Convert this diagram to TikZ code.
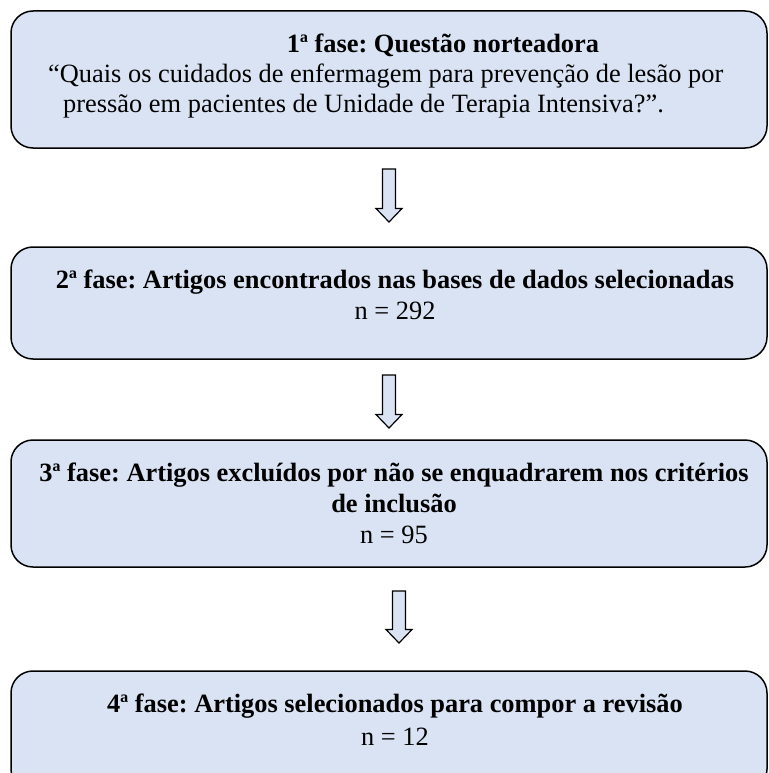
\documentclass[tikz,border=0pt]{standalone}
\usepackage{fontspec}
\setmainfont{Liberation Serif}
\usetikzlibrary{calc}
\definecolor{boxfill}{RGB}{218,227,243}
\frenchspacing
\begin{document}
\begin{tikzpicture}[x=1pt,y=-1pt,
  phasebox/.style={draw=black,line width=1.5pt,fill=boxfill,rounded corners=22pt,
     inner sep=0pt,minimum width=756pt,text width=0pt},
  txt/.style={inner sep=0pt,font=\fontsize{26.4pt}{30pt}\selectfont},
  btxt/.style={txt,font=\fontsize{26.4pt}{30pt}\selectfont\bfseries},
  barrow/.style={draw=black,line width=1.2pt,fill=boxfill,line join=miter}]
\useasboundingbox (0,0) rectangle (768,773);
\clip (0,0) rectangle (768,773);
% boxes
\node[phasebox,minimum height=137pt] (b1) at (389,79.5) {};
\node[phasebox,minimum height=112pt] (b2) at (389,303) {};
\node[phasebox,minimum height=127pt] (b3) at (389,503.5) {};
\node[phasebox,minimum height=120pt] (b4) at (389,731) {};
% texts box 1
\node[btxt,anchor=base] (t11) at (443,53) {1ª fase: Questão norteadora};
\node[txt,anchor=base west] (t12) at (48,83) {“Quais os cuidados de enfermagem para prevenção de lesão por};
\node[txt,anchor=base west] (t13) at (63,113) {pressão em pacientes de Unidade de Terapia Intensiva?”.};
% box 2
\node[btxt,anchor=base] (t21) at (395,288) {2ª fase: Artigos encontrados nas bases de dados selecionadas};
\node[txt,anchor=base] (t22) at (395,319) {n = 292};
% box 3
\node[btxt,anchor=base] (t31) at (394,481) {3ª fase: Artigos excluídos por não se enquadrarem nos critérios};
\node[btxt,anchor=base] (t32) at (394,512) {de inclusão};
\node[txt,anchor=base] (t33) at (394,543) {n = 95};
% box 4
\node[btxt,anchor=base] (t41) at (395,712) {4ª fase: Artigos selecionados para compor a revisão};
\node[txt,anchor=base] (t42) at (395,745) {n = 12};
% arrows
\coordinate (a1s) at (389,169); \coordinate (a1e) at (389,222);
\coordinate (a2s) at (389,375); \coordinate (a2e) at (389,428);
\coordinate (a3s) at (399,591); \coordinate (a3e) at (399,643);
\foreach \a in {a1,a2,a3}{
  \draw[barrow] (\a s) ++(-6.5,0) -- ++(13,0) -- ($(\a e)+(6.5,-13.5)$) -- ++(6.5,0) -- (\a e) -- ++(-13,-13.5) -- ++(6.5,0) -- cycle;
}
\end{tikzpicture}
\end{document}
